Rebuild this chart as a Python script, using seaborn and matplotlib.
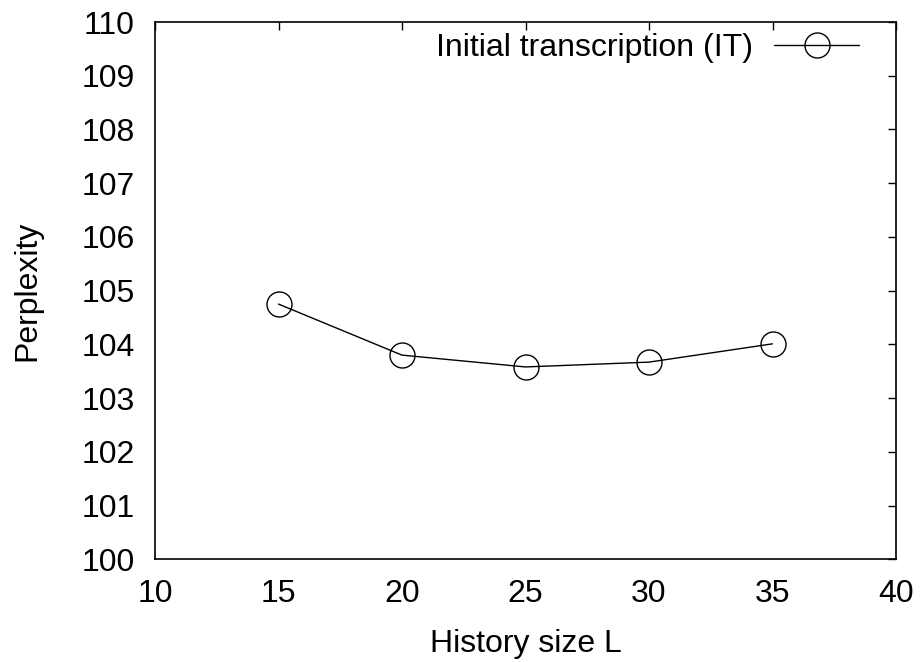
import matplotlib
matplotlib.use("Agg")
import matplotlib.pyplot as plt
import seaborn as sns
import pandas as pd

history_size = [15, 20, 25, 30, 35]
perplexity = [104.75, 103.80, 103.58, 103.67, 104.01]
series_label = "Initial transcription (IT)"
x_ticks = [10, 15, 20, 25, 30, 35, 40]
y_ticks = [100, 101, 102, 103, 104, 105, 106, 107, 108, 109, 110]

sns.set_theme(style="white")
plt.rcParams['font.family'] = ['Liberation Sans', 'DejaVu Sans']
plt.rcParams['text.color'] = 'black'
plt.rcParams['axes.labelcolor'] = 'black'

df = pd.DataFrame({"L": history_size, "P": perplexity, "series": series_label})

fig = plt.figure(figsize=(9.24, 6.62), dpi=100)
ax = fig.add_axes([155/924, 1 - 559.3/662, (896 - 155)/924, (559.3 - 22)/662])

sns.lineplot(data=df, x="L", y="P", hue="series", palette=["black"], ax=ax,
             marker="o", markersize=18, markerfacecolor="none",
             markeredgecolor="black", markeredgewidth=1.0, linewidth=1.0)

ax.set_xlim(10, 40)
ax.set_ylim(100, 110)
ax.set_xticks(x_ticks)
ax.set_yticks(y_ticks)
ax.tick_params(direction="in", length=6, width=1, top=True, right=True,
               labelsize=23, colors="black")
ax.tick_params(axis="x", pad=14)
ax.tick_params(axis="y", pad=14.5)
for s in ax.spines.values():
    s.set_color("black")
    s.set_linewidth(1.2)
ax.set_xlabel("History size L", fontsize=23, va="baseline")
ax.set_ylabel("Perplexity", fontsize=23)
ax.xaxis.set_label_coords(0.5, (559.3 - 652) / 537.3)
ax.yaxis.set_label_coords((42 - 155) / 741, 0.5)

leg = ax.legend(loc="upper right", frameon=False, fontsize=23, markerfirst=False,
                handlelength=2.66, handletextpad=0.66, borderaxespad=0,
                borderpad=0, bbox_to_anchor=((859 - 155) / 741, (559.3 - 33) / 537.3))

fig.savefig("out.png", dpi=100)
